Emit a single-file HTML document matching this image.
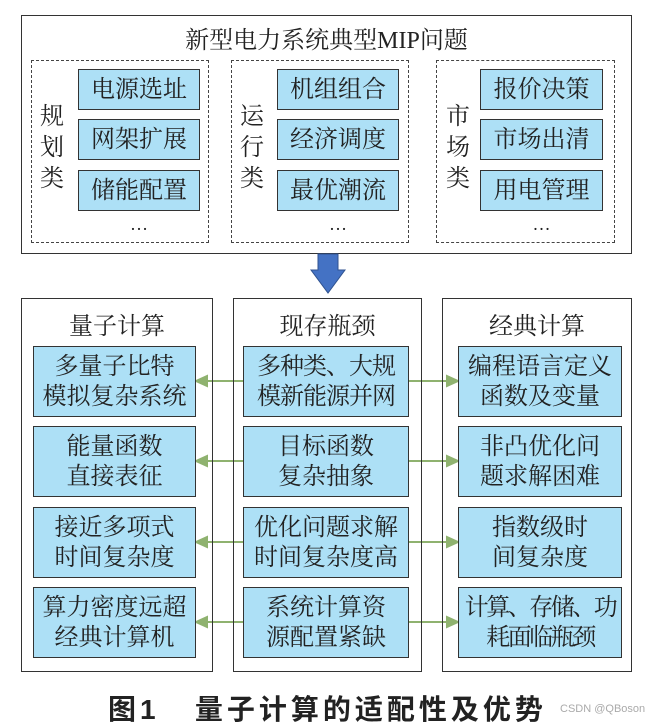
<!DOCTYPE html>
<html><head><meta charset="utf-8"><style>
body{margin:0;width:655px;height:726px;background:#fff;position:relative;overflow:hidden;font-family:"Liberation Serif","Noto Serif CJK SC","Noto Sans CJK SC",serif;color:#222}
.a{position:absolute;box-sizing:border-box}
.o{border:1.5px solid #333;background:#fff}
.d{border:1.5px dashed #444}
.b{background:#ade0f6;border:1.5px solid #333;display:flex;align-items:center;justify-content:center;text-align:center;font-size:24px;line-height:30px;white-space:nowrap}
.t{font-size:24px;text-align:center}
.v{font-size:24px;line-height:31px;width:26px;text-align:center}
.dots{font-size:18px;text-align:center}
</style></head><body>
<div class="a o" style="left:21px;top:15px;width:611px;height:239px"></div>
<div class="a t" style="left:21px;top:20px;width:611px">新型电力系统典型MIP问题</div>
<div class="a d" style="left:31px;top:60px;width:178px;height:183px"></div>
<div class="a d" style="left:231px;top:60px;width:178px;height:183px"></div>
<div class="a d" style="left:436px;top:60px;width:179px;height:183px"></div>
<div class="a v" style="left:39px;top:102px">规<br>划<br>类</div>
<div class="a v" style="left:239px;top:102px">运<br>行<br>类</div>
<div class="a v" style="left:445px;top:102px">市<br>场<br>类</div>
<div class="a b" style="left:78px;top:69px;width:122px;height:41px">电源选址</div>
<div class="a b" style="left:78px;top:119px;width:122px;height:41px">网架扩展</div>
<div class="a b" style="left:78px;top:170px;width:122px;height:41px">储能配置</div>
<div class="a b" style="left:277px;top:69px;width:122px;height:41px">机组组合</div>
<div class="a b" style="left:277px;top:119px;width:122px;height:41px">经济调度</div>
<div class="a b" style="left:277px;top:170px;width:122px;height:41px">最优潮流</div>
<div class="a b" style="left:480px;top:69px;width:123px;height:41px">报价决策</div>
<div class="a b" style="left:480px;top:119px;width:123px;height:41px">市场出清</div>
<div class="a b" style="left:480px;top:170px;width:123px;height:41px">用电管理</div>
<div class="a dots" style="left:78px;top:214px;width:122px">…</div>
<div class="a dots" style="left:277px;top:214px;width:122px">…</div>
<div class="a dots" style="left:480px;top:214px;width:123px">…</div>
<svg class="a" style="left:0;top:0" width="655" height="726">
<polygon points="318,254 338,254 338,270 345,270 328,293 311,270 318,270" fill="#4472c4" stroke="#2f528f" stroke-width="1"/>
<g stroke="#8fb26f" stroke-width="2" fill="#8fb26f">
<line x1="243" y1="381" x2="205" y2="381"/><polygon points="196,381 207,376 207,386"/>
<line x1="409" y1="381" x2="449" y2="381"/><polygon points="458,381 447,376 447,386"/>
<line x1="243" y1="461" x2="205" y2="461"/><polygon points="196,461 207,456 207,466"/>
<line x1="409" y1="461" x2="449" y2="461"/><polygon points="458,461 447,456 447,466"/>
<line x1="243" y1="542" x2="205" y2="542"/><polygon points="196,542 207,537 207,547"/>
<line x1="409" y1="542" x2="449" y2="542"/><polygon points="458,542 447,537 447,547"/>
<line x1="243" y1="622" x2="205" y2="622"/><polygon points="196,622 207,617 207,627"/>
<line x1="409" y1="622" x2="449" y2="622"/><polygon points="458,622 447,617 447,627"/>
</g></svg>
<div class="a o" style="left:21px;top:298px;width:192px;height:374px;background:none"></div>
<div class="a o" style="left:233px;top:298px;width:189px;height:374px;background:none"></div>
<div class="a o" style="left:442px;top:298px;width:190px;height:374px;background:none"></div>
<div class="a t" style="left:21px;top:306px;width:192px">量子计算</div>
<div class="a t" style="left:233px;top:306px;width:189px">现存瓶颈</div>
<div class="a t" style="left:442px;top:306px;width:190px">经典计算</div>
<div class="a b" style="left:33px;top:346px;width:163px;height:71px">多量子比特<br>模拟复杂系统</div>
<div class="a b" style="left:33px;top:426px;width:163px;height:71px">能量函数<br>直接表征</div>
<div class="a b" style="left:33px;top:507px;width:163px;height:71px">接近多项式<br>时间复杂度</div>
<div class="a b" style="left:33px;top:587px;width:163px;height:71px">算力密度远超<br>经典计算机</div>
<div class="a b" style="left:243px;top:346px;width:166px;height:71px;letter-spacing:-1px">多种类、大规<br>模新能源并网</div>
<div class="a b" style="left:243px;top:426px;width:166px;height:71px">目标函数<br>复杂抽象</div>
<div class="a b" style="left:243px;top:507px;width:166px;height:71px">优化问题求解<br>时间复杂度高</div>
<div class="a b" style="left:243px;top:587px;width:166px;height:71px">系统计算资<br>源配置紧缺</div>
<div class="a b" style="left:458px;top:346px;width:164px;height:71px">编程语言定义<br>函数及变量</div>
<div class="a b" style="left:458px;top:426px;width:164px;height:71px">非凸优化问<br>题求解困难</div>
<div class="a b" style="left:458px;top:507px;width:164px;height:71px">指数级时<br>间复杂度</div>
<div class="a b" style="left:458px;top:587px;width:164px;height:71px;letter-spacing:-2.5px">计算、存储、功<br>耗面临瓶颈</div>
<div class="a" style="left:108px;top:688px;font-size:28px;font-weight:bold;font-family:'Liberation Sans','Noto Sans CJK SC',sans-serif;letter-spacing:4px;white-space:nowrap">图1&nbsp;&nbsp;&nbsp;量子计算的适配性及优势</div>
<div class="a" style="left:560px;top:703px;font-size:11px;color:#aaa;font-family:'Liberation Sans',sans-serif">CSDN @QBoson</div>
</body></html>
